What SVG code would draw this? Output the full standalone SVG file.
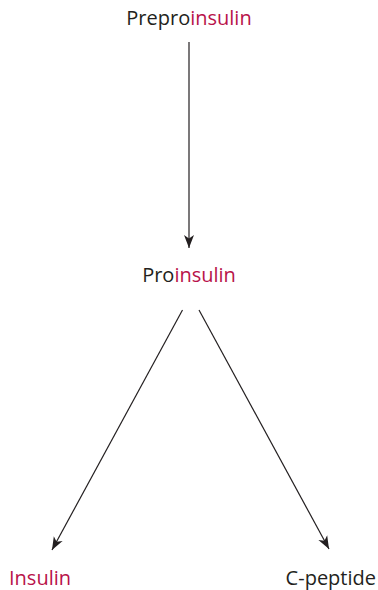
<svg xmlns="http://www.w3.org/2000/svg" width="378" height="590" viewBox="0 0 378 590">
<style>
.t{font-family:"Open Sans","Noto Sans","Liberation Sans",sans-serif;font-size:20px;fill:#231f20}
.r{fill:#b8124a}
.c{stroke:#231f20;stroke-width:1.2;fill:none}
</style>
<defs>
<marker id="ah" markerUnits="userSpaceOnUse" markerWidth="16" markerHeight="12" viewBox="-13 -6 16 12" refX="0" refY="0" orient="auto">
<path d="M0,0 L-13,-5 L-9.5,0 L-13,5 z" fill="#231f20"/>
</marker>
</defs>
<rect width="378" height="590" fill="#fff"/>
<g id="connectors">
<line class="c" x1="189" y1="42" x2="189" y2="248" marker-end="url(#ah)"/>
<line class="c" x1="182.5" y1="310" x2="52" y2="550" marker-end="url(#ah)"/>
<line class="c" x1="199" y1="310" x2="329" y2="549" marker-end="url(#ah)"/>
</g>
<g id="preproinsulin"><text class="t" x="189" y="25" text-anchor="middle">Prepro<tspan class="r">insulin</tspan></text></g>
<g id="proinsulin"><text class="t" x="189" y="281.5" text-anchor="middle">Pro<tspan class="r">insulin</tspan></text></g>
<g id="insulin"><text class="t r" x="9" y="585">Insulin</text></g>
<g id="cpeptide"><text class="t" x="376" y="585" text-anchor="end">C-peptide</text></g>
</svg>
